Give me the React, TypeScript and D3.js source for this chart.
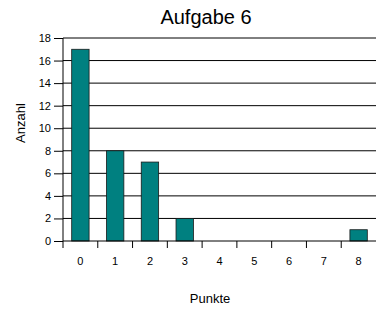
import React, { useEffect, useRef } from 'react';
import * as d3 from 'd3';

const punkte = ['0', '1', '2', '3', '4', '5', '6', '7', '8'];
const anzahl = [17, 8, 7, 2, 0, 0, 0, 0, 1];
const yTicks = [0, 2, 4, 6, 8, 10, 12, 14, 16, 18];

const App = () => {
  const svgRef = useRef<SVGSVGElement>(null);
  const width = 377;
  const height = 315;

  useEffect(() => {
    const svg = d3.select(svgRef.current);
    svg.selectAll('*').remove();

    const margin = { top: 38, right: 1, bottom: 74, left: 63 };
    const innerWidth = width - margin.left - margin.right;
    const innerHeight = height - margin.top - margin.bottom;

    const x = d3.scaleBand().domain(punkte).range([0, innerWidth]).paddingInner(0.5).paddingOuter(0.25);
    const xOuter = d3.scaleBand().domain(punkte).range([0, innerWidth]);
    const y = d3.scaleLinear().domain([0, 18]).range([innerHeight, 0]);

    const g = svg.append('g').attr('transform', `translate(${margin.left},${margin.top})`);

    // gridlines
    g.selectAll('.grid')
      .data(yTicks.filter(d => d > 0))
      .enter()
      .append('line')
      .attr('x1', 0)
      .attr('x2', innerWidth)
      .attr('y1', d => y(d))
      .attr('y2', d => y(d))
      .attr('stroke', '#000')
      .attr('stroke-width', 1);

    // bars
    g.selectAll('.bar')
      .data(anzahl)
      .enter()
      .append('rect')
      .attr('x', (d, i) => x(punkte[i]))
      .attr('y', d => y(d))
      .attr('width', x.bandwidth())
      .attr('height', d => innerHeight - y(d))
      .attr('fill', '#008080')
      .attr('stroke', '#1a1a1a')
      .attr('stroke-width', d => (d > 0 ? 0.8 : 0));

    // y axis
    const yAxis = g
      .append('g')
      .call(d3.axisLeft(y).tickValues(yTicks).tickSize(9).tickPadding(3));
    yAxis.select('.domain').attr('stroke', '#000').attr('d', `M0,${innerHeight}V0`);
    yAxis.selectAll('text').attr('font-family', 'Liberation Sans, Arial, sans-serif').attr('font-size', 11).attr('fill', '#000');

    // x axis
    const xAxis = g
      .append('g')
      .attr('transform', `translate(0,${innerHeight})`)
      .call(d3.axisBottom(xOuter).tickSize(0).tickPadding(16));
    xAxis.select('.domain').attr('stroke', '#000').attr('d', `M0,0H${innerWidth}`);
    xAxis.selectAll('text').attr('font-family', 'Liberation Sans, Arial, sans-serif').attr('font-size', 11).attr('fill', '#000');
    xAxis
      .selectAll('.sep')
      .data(punkte.map((p, i) => i))
      .enter()
      .append('line')
      .attr('x1', i => xOuter.step() * i)
      .attr('x2', i => xOuter.step() * i)
      .attr('y1', 0)
      .attr('y2', 7)
      .attr('stroke', '#000');

    svg
      .append('text')
      .attr('x', 206)
      .attr('y', 24)
      .attr('text-anchor', 'middle')
      .attr('font-family', 'Liberation Sans, Arial, sans-serif')
      .attr('font-size', 20)
      .text('Aufgabe 6');

    svg
      .append('text')
      .attr('transform', 'translate(25,123) rotate(-90)')
      .attr('text-anchor', 'middle')
      .attr('font-family', 'Liberation Sans, Arial, sans-serif')
      .attr('font-size', 13)
      .text('Anzahl');

    svg
      .append('text')
      .attr('x', 210)
      .attr('y', 303)
      .attr('text-anchor', 'middle')
      .attr('font-family', 'Liberation Sans, Arial, sans-serif')
      .attr('font-size', 13)
      .text('Punkte');
  }, []);

  return (
    <svg
      ref={svgRef}
      width={width}
      height={height}
      style={{ position: 'absolute', left: 0, top: 0, background: '#fff' }}
    ></svg>
  );
};

export default App;
